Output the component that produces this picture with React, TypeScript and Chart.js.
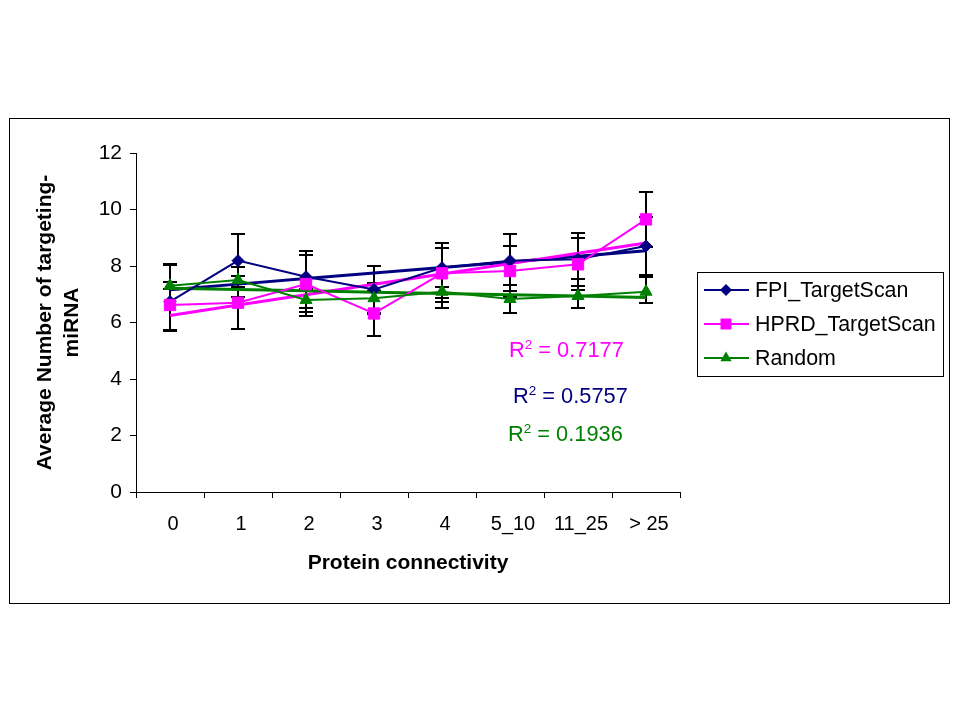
import React, { useEffect, useRef } from 'react';
import { Chart, registerables } from 'chart.js';

Chart.register(...registerables);

// ---- data ----
const categories = ['0', '1', '2', '3', '4', '5_10', '11_25', '> 25'];
const seriesNames = ['FPI_TargetScan', 'HPRD_TargetScan', 'Random'];

const fpiValues = [6.74, 8.19, 7.62, 7.17, 7.94, 8.19, 8.24, 8.71];
const hprdValues = [6.62, 6.70, 7.36, 6.32, 7.74, 7.82, 8.06, 9.65];
const randomValues = [7.30, 7.50, 6.80, 6.86, 7.09, 6.83, 6.94, 7.09];

const fpiLow = [5.71, 7.25, 6.50, 6.33, 6.72, 7.33, 7.30, 7.68];
const fpiHigh = [8.07, 9.13, 8.53, 8.01, 8.80, 9.13, 9.18, 9.74];
const hprdLow = [5.74, 5.76, 6.36, 5.53, 6.86, 6.92, 7.15, 8.69];
const hprdHigh = [8.05, 7.64, 8.39, 7.11, 8.63, 8.72, 8.98, 10.61];
const randomLow = [7.18, 6.91, 6.23, 6.31, 6.52, 6.35, 6.50, 6.68];
const randomHigh = [7.42, 7.98, 7.20, 7.41, 7.25, 7.12, 7.53, 7.62];

const r2Labels = ['0.7177', '0.5757', '0.1936']; // HPRD, FPI, Random

const yMin = 0;
const yMax = 12;
const yStep = 2;

// ---- styles ----
const FONT = "'Liberation Sans', Arial, sans-serif";
const NAVY = '#000080';
const MAGENTA = '#FF00FF';
const GREEN = '#008000';

function linearTrend(values: number[]): number[] {
  const n = values.length;
  const mx = (n - 1) / 2;
  const my = values.reduce((a, b) => a + b, 0) / n;
  let sxy = 0;
  let sxx = 0;
  values.forEach((v, i) => {
    sxy += (i - mx) * (v - my);
    sxx += (i - mx) * (i - mx);
  });
  const b = sxy / sxx;
  const a = my - b * mx;
  return values.map((_, i) => a + b * i);
}

const errorSets = [
  { low: fpiLow, high: fpiHigh },
  { low: hprdLow, high: hprdHigh },
  { low: randomLow, high: randomHigh },
];

const errorBarPlugin = {
  id: 'errorBars',
  beforeDatasetsDraw(chart: any) {
    const { ctx } = chart;
    const xs = chart.scales.x;
    const ys = chart.scales.y;
    ctx.save();
    ctx.strokeStyle = '#000';
    ctx.lineWidth = 2;
    errorSets.forEach(({ low, high }) => {
      low.forEach((lo, i) => {
        const px = Math.round(xs.getPixelForValue(i));
        const p1 = Math.round(ys.getPixelForValue(lo));
        const p2 = Math.round(ys.getPixelForValue(high[i]));
        ctx.beginPath();
        ctx.moveTo(px, p1);
        ctx.lineTo(px, p2);
        ctx.moveTo(px - 7, p1);
        ctx.lineTo(px + 7, p1);
        ctx.moveTo(px - 7, p2);
        ctx.lineTo(px + 7, p2);
        ctx.stroke();
      });
    });
    ctx.restore();
  },
};

function drawMarker(ctx: CanvasRenderingContext2D, style: string, x: number, y: number, color: string) {
  ctx.save();
  ctx.fillStyle = color;
  ctx.beginPath();
  if (style === 'rectRot') {
    const r = 6;
    ctx.moveTo(x, y - r);
    ctx.lineTo(x + r, y);
    ctx.lineTo(x, y + r);
    ctx.lineTo(x - r, y);
  } else if (style === 'rect') {
    const h = 5.5;
    ctx.rect(x - h, y - h, 2 * h, 2 * h);
  } else {
    const r = 6.5;
    ctx.moveTo(x, y - r);
    ctx.lineTo(x + r * 0.866, y + r * 0.5);
    ctx.lineTo(x - r * 0.866, y + r * 0.5);
  }
  ctx.closePath();
  ctx.fill();
  ctx.restore();
}

const decorPlugin = {
  id: 'decor',
  beforeDraw(chart: any) {
    const { ctx } = chart;
    ctx.save();
    ctx.fillStyle = '#fff';
    ctx.fillRect(0, 0, chart.width, chart.height);
    ctx.strokeStyle = '#000';
    ctx.lineWidth = 1;
    ctx.strokeRect(9.5, 118.5, 940, 485);
    ctx.restore();
  },
  afterDraw(chart: any) {
    const { ctx } = chart;
    ctx.save();
    // legend
    ctx.strokeStyle = '#000';
    ctx.lineWidth = 1;
    ctx.strokeRect(697.5, 272.5, 246, 104);
    const colors = [NAVY, MAGENTA, GREEN];
    const styles = ['rectRot', 'rect', 'triangle'];
    const rows = [290, 324, 358];
    seriesNames.forEach((name, i) => {
      const y = rows[i];
      ctx.strokeStyle = colors[i];
      ctx.lineWidth = 2;
      ctx.beginPath();
      ctx.moveTo(704, y);
      ctx.lineTo(749, y);
      ctx.stroke();
      drawMarker(ctx, styles[i], 726, y, colors[i]);
      ctx.fillStyle = '#000';
      ctx.font = `21.4px ${FONT}`;
      ctx.textBaseline = 'middle';
      ctx.textAlign = 'left';
      ctx.fillText(name, 755, y + 1);
    });
    // R^2 annotations
    const notes = [
      { text: r2Labels[0], color: MAGENTA, x: 509, y: 357 },
      { text: r2Labels[1], color: NAVY, x: 513, y: 403 },
      { text: r2Labels[2], color: GREEN, x: 508, y: 441 },
    ];
    notes.forEach((n) => {
      ctx.fillStyle = n.color;
      ctx.textBaseline = 'alphabetic';
      ctx.textAlign = 'left';
      ctx.font = `21.8px ${FONT}`;
      ctx.fillText('R', n.x, n.y);
      let x = n.x + ctx.measureText('R').width;
      ctx.font = `13.5px ${FONT}`;
      ctx.fillText('2', x, n.y - 8);
      x += ctx.measureText('2').width;
      ctx.font = `21.8px ${FONT}`;
      ctx.fillText(' = ' + n.text, x, n.y);
    });
    ctx.restore();
  },
};

export default function App() {
  const canvasRef = useRef<HTMLCanvasElement | null>(null);

  useEffect(() => {
    if (!canvasRef.current) return;
    const pointBase = { pointBorderWidth: 1, tension: 0, fill: false, borderWidth: 2 };
    const chart = new Chart(canvasRef.current, {
      type: 'line',
      data: {
        labels: categories,
        datasets: [
          {
            label: seriesNames[0], data: fpiValues, borderColor: NAVY, backgroundColor: NAVY,
            pointStyle: 'rectRot', pointRadius: 6, order: 3, ...pointBase,
          },
          {
            label: seriesNames[1], data: hprdValues, borderColor: MAGENTA, backgroundColor: MAGENTA,
            pointStyle: 'rect', pointRadius: 8, order: 2, ...pointBase,
          },
          {
            label: seriesNames[2], data: randomValues, borderColor: GREEN, backgroundColor: GREEN,
            pointStyle: 'triangle', pointRadius: 7, order: 1, ...pointBase,
          },
          {
            label: 'FPI trend', data: linearTrend(fpiValues), borderColor: NAVY, borderWidth: 3,
            pointRadius: 0, order: 6, tension: 0,
          },
          {
            label: 'HPRD trend', data: linearTrend(hprdValues), borderColor: MAGENTA, borderWidth: 3,
            pointRadius: 0, order: 5, tension: 0,
          },
          {
            label: 'Random trend', data: linearTrend(randomValues), borderColor: GREEN, borderWidth: 3,
            pointRadius: 0, order: 4, tension: 0,
          },
        ],
      },
      options: {
        animation: false,
        responsive: false,
        maintainAspectRatio: false,
        layout: { padding: { left: 0, top: 153, right: 280, bottom: 720 - 492 - 84 } },
        plugins: { legend: { display: false }, tooltip: { enabled: false }, title: { display: false } },
        scales: {
          x: {
            type: 'category',
            offset: true,
            grid: { display: true, drawOnChartArea: false, drawTicks: true, tickLength: 6, color: '#000', offset: true },
            border: { display: true, color: '#000', width: 1 },
            ticks: { color: '#000', font: { family: FONT, size: 20 }, padding: 14, labelOffset: 3, maxRotation: 0, autoSkip: false },
            title: {
              display: true, text: 'Protein connectivity', color: '#000',
              font: { family: FONT, size: 21, weight: 'bold' }, padding: { top: 0, bottom: 0 },
            },
            afterFit: (s: any) => { s.height = 84; },
          },
          y: {
            min: yMin,
            max: yMax,
            ticks: { stepSize: yStep, color: '#000', font: { family: FONT, size: 21 }, padding: 8 },
            grid: { display: true, drawOnChartArea: false, drawTicks: true, tickLength: 6, color: '#000' },
            border: { display: true, color: '#000', width: 1 },
            title: {
              display: true, text: ['Average Number of targeting-', 'miRNA'], color: '#000',
              font: { family: FONT, size: 21, weight: 'bold', lineHeight: 1.29 }, padding: { top: 32, bottom: 0 },
            },
            afterFit: (s: any) => { s.width = 136; },
          },
        },
      } as any,
      plugins: [errorBarPlugin, decorPlugin],
    });
    return () => chart.destroy();
  }, []);

  return (
    <div style={{ position: 'absolute', left: 0, top: 0, width: 960, height: 720, background: '#fff' }}>
      <canvas ref={canvasRef} width={960} height={720} style={{ display: 'block', width: 960, height: 720 }} />
    </div>
  );
}
